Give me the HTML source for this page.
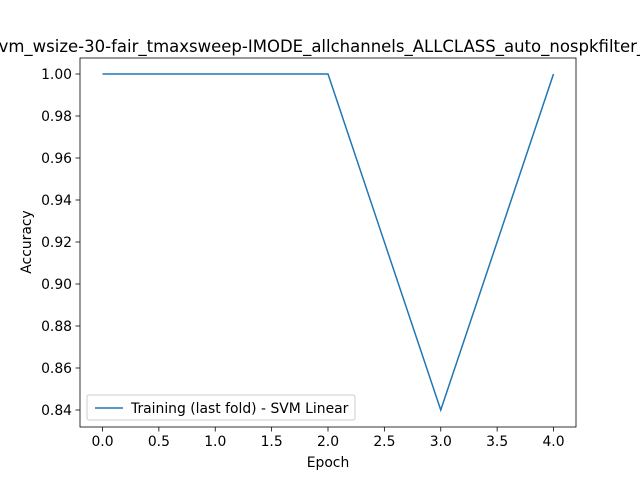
<!DOCTYPE html>
<html><head><meta charset="utf-8"><style>
body{margin:0;background:#fff}
svg{display:block;font-family:"DejaVu Sans","Liberation Sans",sans-serif}
</style></head><body>
<svg id="chart" width="640" height="480">
<rect x="0" y="0" width="640" height="480" fill="#fff"/>
<text x="-10" y="52" font-size="16.5">svm_wsize-30-fair_tmaxsweep-IMODE_allchannels_ALLCLASS_auto_nospkfilter_g</text>
<g id="xt"></g><g id="yt"></g>
<polyline id="line" fill="none" stroke="#1f77b4" stroke-width="1.5"/>
<rect x="80" y="58" width="496" height="369" fill="none" stroke="#000" stroke-width="0.8"/>
<text x="328" y="467" font-size="13.9" text-anchor="middle">Epoch</text>
<text transform="translate(31,242) rotate(-90)" font-size="13.9" text-anchor="middle">Accuracy</text>
<g>
<rect x="87" y="395" width="268" height="25" rx="2" fill="#fff" fill-opacity="0.8" stroke="#ccc"/>
<line x1="95" y1="408" x2="123" y2="408" stroke="#1f77b4" stroke-width="1.5"/>
<text x="131" y="413" font-size="13.9">Training (last fold) - SVM Linear</text>
</g>
</svg>
<script>
const epochs=[0,1,2,3,4];
const accuracy=[1.0,1.0,1.0,0.84,1.0];
const xTicks=[0,0.5,1,1.5,2,2.5,3,3.5,4];
const yTicks=[0.84,0.86,0.88,0.90,0.92,0.94,0.96,0.98,1.00];
const xs=v=>102.5+v*112.75;
const ys=v=>74-(v-1.0)*2100;
const ns="http://www.w3.org/2000/svg";
const xt=document.getElementById('xt'),yt=document.getElementById('yt');
xTicks.forEach(t=>{
 const l=document.createElementNS(ns,'line');
 
 
 l.setAttribute('x1',xs(t));l.setAttribute('x2',xs(t));l.setAttribute('y1',427);l.setAttribute('y2',431.5);l.setAttribute('stroke','#000');l.setAttribute('stroke-width','0.8');
 xt.appendChild(l);
 const s=document.createElementNS(ns,'text');
 
 
 s.setAttribute('x',xs(t));s.setAttribute('y',446);s.setAttribute('font-size','13.9');s.setAttribute('text-anchor','middle');
 s.textContent=t.toFixed(1);xt.appendChild(s);
});
yTicks.forEach(t=>{
 const l=document.createElementNS(ns,'line');
 
 
 l.setAttribute('x1',75.5);l.setAttribute('x2',80);l.setAttribute('y1',ys(t));l.setAttribute('y2',ys(t));l.setAttribute('stroke','#000');l.setAttribute('stroke-width','0.8');
 yt.appendChild(l);
 const s=document.createElementNS(ns,'text');
 
 
 s.setAttribute('x',72);s.setAttribute('y',ys(t)+5);s.setAttribute('font-size','13.9');s.setAttribute('text-anchor','end');
 s.textContent=t.toFixed(2);yt.appendChild(s);
});
document.getElementById('line').setAttribute('points',epochs.map((e,i)=>xs(e)+','+ys(accuracy[i])).join(' '));
</script>
</body></html>
